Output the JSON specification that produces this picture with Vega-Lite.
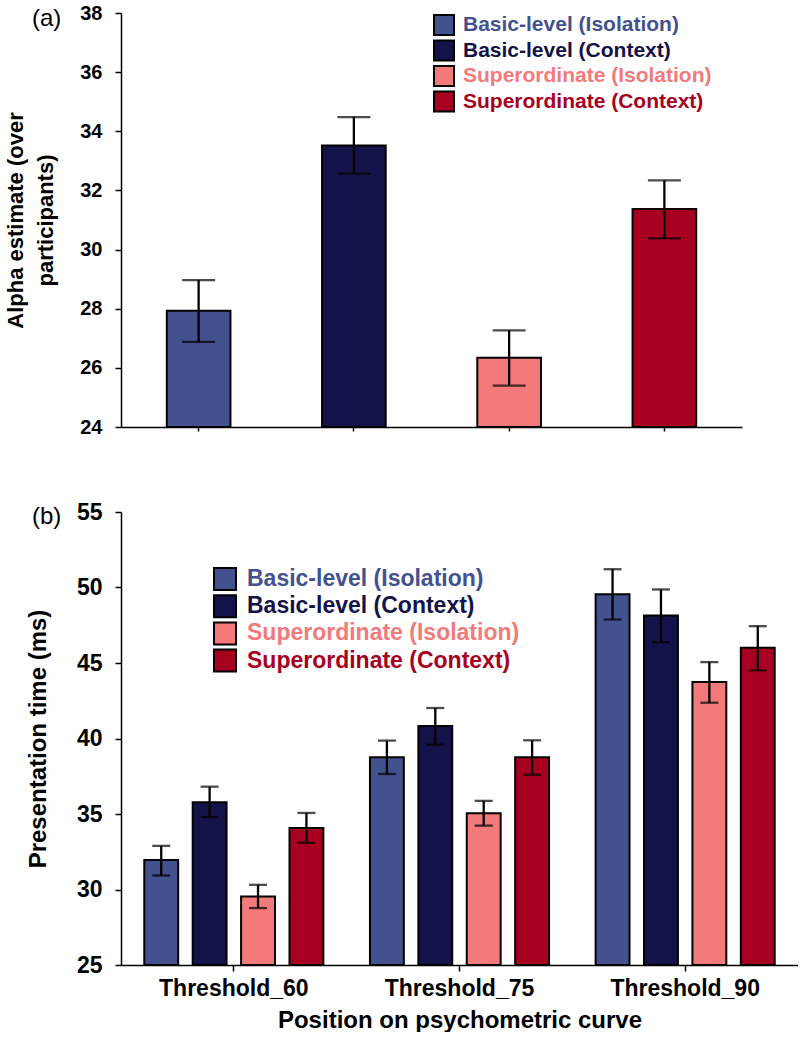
{
  "$schema": "https://vega.github.io/schema/vega-lite/v6.json",
  "background": "white",
  "padding": {"left": 4, "top": 3, "right": 0, "bottom": 0},
  "spacing": 64,
  "config": {
    "font": "Liberation Sans",
    "view": {"stroke": null},
    "axis": {
      "domainColor": "black", "domainWidth": 1.5, "tickColor": "black", "tickWidth": 1.5,
      "grid": false, "labelFont": "Liberation Sans", "labelFontWeight": "bold", "labelColor": "black",
      "titleFont": "Liberation Sans", "titleFontWeight": "bold", "titleColor": "black"
    },
    "legend": {
      "labelFont": "Liberation Sans", "labelFontWeight": "bold", "symbolType": "square",
      "symbolStrokeColor": "black", "symbolStrokeWidth": 2, "labelLimit": 500
    }
  },
  "datasets": {
    "alpha": [
      {"condition": "Basic-level (Isolation)", "mean": 27.93, "lo": 26.88, "hi": 28.97},
      {"condition": "Basic-level (Context)", "mean": 33.52, "lo": 32.57, "hi": 34.48},
      {"condition": "Superordinate (Isolation)", "mean": 26.34, "lo": 25.40, "hi": 27.27},
      {"condition": "Superordinate (Context)", "mean": 31.37, "lo": 30.38, "hi": 32.34}
    ],
    "pt": [
      {"threshold": "Threshold_60", "condition": "Basic-level (Isolation)", "mean": 31.96, "lo": 30.93, "hi": 32.89},
      {"threshold": "Threshold_60", "condition": "Basic-level (Context)", "mean": 35.78, "lo": 34.79, "hi": 36.81},
      {"threshold": "Threshold_60", "condition": "Superordinate (Isolation)", "mean": 29.54, "lo": 28.77, "hi": 30.31},
      {"threshold": "Threshold_60", "condition": "Superordinate (Context)", "mean": 34.08, "lo": 33.09, "hi": 35.07},
      {"threshold": "Threshold_75", "condition": "Basic-level (Isolation)", "mean": 38.76, "lo": 37.65, "hi": 39.86},
      {"threshold": "Threshold_75", "condition": "Basic-level (Context)", "mean": 40.83, "lo": 39.59, "hi": 42.02},
      {"threshold": "Threshold_75", "condition": "Superordinate (Isolation)", "mean": 35.05, "lo": 34.23, "hi": 35.87},
      {"threshold": "Threshold_75", "condition": "Superordinate (Context)", "mean": 38.76, "lo": 37.60, "hi": 39.88},
      {"threshold": "Threshold_90", "condition": "Basic-level (Isolation)", "mean": 49.56, "lo": 47.88, "hi": 51.21},
      {"threshold": "Threshold_90", "condition": "Basic-level (Context)", "mean": 48.15, "lo": 46.38, "hi": 49.87},
      {"threshold": "Threshold_90", "condition": "Superordinate (Isolation)", "mean": 43.74, "lo": 42.37, "hi": 45.06},
      {"threshold": "Threshold_90", "condition": "Superordinate (Context)", "mean": 46.01, "lo": 44.51, "hi": 47.44}
    ]
  },
  "vconcat": [
    {
      "width": 621, "height": 414,
      "data": {"name": "alpha"},
      "title": {"text": "(a)", "anchor": "start", "frame": "group", "dx": -89, "dy": 28, "offset": 0, "fontSize": 24, "fontWeight": "normal", "color": "black", "font": "Liberation Sans"},
      "encoding": {
        "x": {"field": "condition", "type": "nominal",
          "sort": ["Basic-level (Isolation)", "Basic-level (Context)", "Superordinate (Isolation)", "Superordinate (Context)"],
          "scale": {"paddingInner": 0.59, "paddingOuter": 0.295},
          "axis": {"title": null, "labels": false, "tickSize": 4}}
      },
      "layer": [
        {
          "mark": {"type": "bar", "stroke": "black", "strokeWidth": 2},
          "encoding": {
            "y": {"field": "mean", "type": "quantitative",
              "scale": {"domain": [24, 38], "nice": false, "zero": false},
              "axis": {"values": [24, 26, 28, 30, 32, 34, 36, 38], "title": ["Alpha estimate (over", "participants)"],
                "titleFontSize": 22, "titleLineHeight": 30, "labelFontSize": 20, "tickSize": 6, "labelPadding": 13, "titlePadding": 22}},
            "y2": {"datum": 24},
            "fill": {"field": "condition", "type": "nominal",
              "scale": {"domain": ["Basic-level (Isolation)", "Basic-level (Context)", "Superordinate (Isolation)", "Superordinate (Context)"],
                "range": ["#43528f", "#141349", "#f27a7a", "#a80020"]},
              "legend": {"title": null, "orient": "none", "legendX": 312, "legendY": 1,
                "symbolSize": 400, "labelFontSize": 21, "labelOffset": 8, "rowPadding": -2.5,
                "encode": {"labels": {"update": {"fill": {"signal": "datum.value === 'Basic-level (Isolation)' ? '#43528f' : datum.value === 'Basic-level (Context)' ? '#141349' : datum.value === 'Superordinate (Isolation)' ? '#f27a7a' : '#a80020'"}}}}}}
          }
        },
        {"mark": {"type": "rule", "strokeWidth": 2.3, "color": "black"},
         "encoding": {"y": {"field": "lo", "type": "quantitative"}, "y2": {"field": "hi"}}},
        {"mark": {"type": "tick", "size": 33, "thickness": 2.3, "color": "black"},
         "encoding": {"y": {"field": "lo", "type": "quantitative"}}},
        {"mark": {"type": "tick", "size": 33, "thickness": 2.3, "color": "black"},
         "encoding": {"y": {"field": "hi", "type": "quantitative"}}}
      ]
    },
    {
      "width": 677, "height": 453,
      "data": {"name": "pt"},
      "title": {"text": "(b)", "anchor": "start", "frame": "group", "dx": -89, "dy": 28, "offset": 0, "fontSize": 24, "fontWeight": "normal", "color": "black", "font": "Liberation Sans"},
      "encoding": {
        "x": {"field": "threshold", "type": "nominal",
          "scale": {"paddingInner": 0.142, "paddingOuter": 0.071},
          "axis": {"title": "Position on psychometric curve", "labelAngle": 0, "labelFontSize": 23, "titleFontSize": 24, "tickSize": 6, "labelPadding": 6, "titlePadding": 8}},
        "xOffset": {"field": "condition", "type": "nominal",
          "sort": ["Basic-level (Isolation)", "Basic-level (Context)", "Superordinate (Isolation)", "Superordinate (Context)"],
          "scale": {"paddingInner": 0.3, "paddingOuter": 0.15}}
      },
      "layer": [
        {
          "mark": {"type": "bar", "stroke": "black", "strokeWidth": 2},
          "encoding": {
            "y": {"field": "mean", "type": "quantitative",
              "scale": {"domain": [25, 55], "nice": false, "zero": false},
              "axis": {"values": [25, 30, 35, 40, 45, 50, 55], "title": "Presentation time (ms)",
                "titleFontSize": 24, "labelFontSize": 23, "tickSize": 6, "labelPadding": 13, "titlePadding": 26}},
            "y2": {"datum": 25},
            "fill": {"field": "condition", "type": "nominal",
              "scale": {"domain": ["Basic-level (Isolation)", "Basic-level (Context)", "Superordinate (Isolation)", "Superordinate (Context)"],
                "range": ["#43528f", "#141349", "#f27a7a", "#a80020"]},
              "legend": {"title": null, "orient": "none", "legendX": 92, "legendY": 55,
                "symbolSize": 484, "labelFontSize": 23, "labelOffset": 10, "rowPadding": -2.8,
                "encode": {"labels": {"update": {"fill": {"signal": "datum.value === 'Basic-level (Isolation)' ? '#43528f' : datum.value === 'Basic-level (Context)' ? '#141349' : datum.value === 'Superordinate (Isolation)' ? '#f27a7a' : '#a80020'"}}}}}}
          }
        },
        {"mark": {"type": "rule", "strokeWidth": 2.3, "color": "black"},
         "encoding": {"y": {"field": "lo", "type": "quantitative"}, "y2": {"field": "hi"}}},
        {"mark": {"type": "tick", "size": 18, "thickness": 2.3, "color": "black"},
         "encoding": {"y": {"field": "lo", "type": "quantitative"}}},
        {"mark": {"type": "tick", "size": 18, "thickness": 2.3, "color": "black"},
         "encoding": {"y": {"field": "hi", "type": "quantitative"}}}
      ]
    }
  ],
  "resolve": {"scale": {"fill": "independent"}, "legend": {"fill": "independent"}}
}
